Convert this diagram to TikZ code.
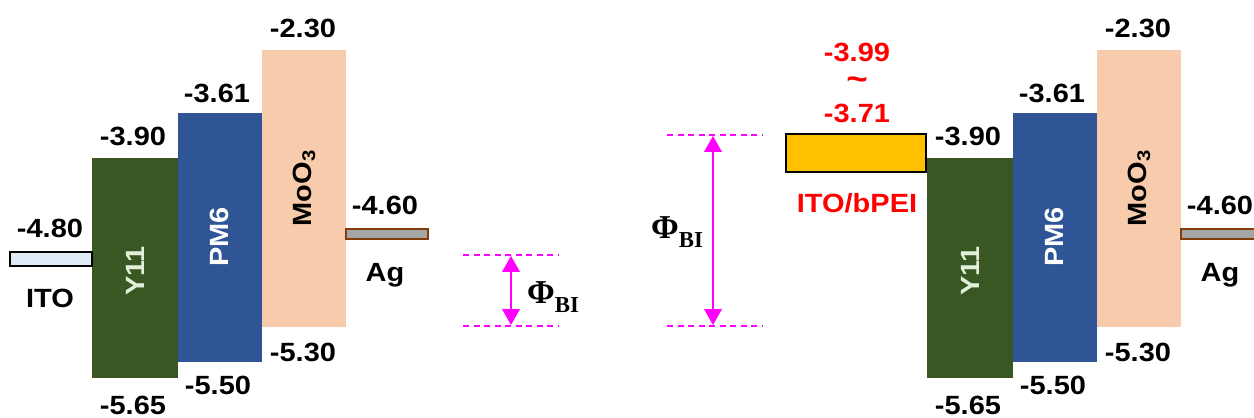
\documentclass[tikz,border=0pt]{standalone}
\usepackage{fontspec}
\setmainfont{Liberation Sans}[FakeStretch=1.1]
\newfontfamily\phifont{Liberation Serif}
\usetikzlibrary{arrows.meta}

\definecolor{y11green}{RGB}{56,87,35}
\definecolor{pmblue}{RGB}{47,85,151}
\definecolor{moopeach}{RGB}{248,203,173}
\definecolor{itoblue}{RGB}{222,235,247}
\definecolor{aggrey}{RGB}{166,166,166}
\definecolor{agbrown}{RGB}{132,60,12}
\definecolor{peigold}{RGB}{255,192,0}
\definecolor{y11text}{RGB}{226,240,217}
\definecolor{phipink}{RGB}{255,0,255}

\newcommand{\phibi}{{\phifont\bfseries\fontsize{19}{19}\selectfont Φ\raisebox{-5pt}{\fontsize{13}{13}\selectfont BI}}}

\begin{document}
\begin{tikzpicture}[x=0.02cm, y=-0.02cm,
  lvl/.style={font=\bfseries\fontsize{15}{17}\selectfont, inner sep=0pt},
  phidash/.style={phipink, line width=0.6pt, dash pattern=on 3.5pt off 2.5pt},
  phiarrow/.style={phipink, line width=0.8pt, {Triangle[width=10pt,length=9pt]}-{Triangle[width=10pt,length=9pt]}}]
  \useasboundingbox (0,0) rectangle (1254,418);

  % the common stack Y11 / PM6 / MoO3 / Ag, drawn twice
  \foreach \s/\p in {0/a,835/b}{
    \begin{scope}[xshift={\s*0.02cm}]
      \fill[y11green] (92,158) rectangle (178,378);
      \fill[pmblue] (178,113) rectangle (262,362);
      \fill[moopeach] (262,50) rectangle (346,327);
      \draw[agbrown, line width=1.1pt, fill=aggrey] (346,229) rectangle (428,239);

      \node[lvl, rotate=90, text=y11text] (y11\p) at (135,271) {Y11};
      \node[lvl, rotate=90, white] (pm\p) at (219,237) {PM6};
      \node[lvl, rotate=90] (moo\p) at (304,188) {MoO\textsubscript{3}};

      \node[lvl] (y11lumo\p) at (133,136) {-3.90};
      \node[lvl] (y11homo\p) at (133,405) {-5.65};
      \node[lvl] (pmlumo\p) at (217,93) {-3.61};
      \node[lvl] (pmhomo\p) at (218,385) {-5.50};
      \node[lvl] (moolumo\p) at (303,28) {-2.30};
      \node[lvl] (moohomo\p) at (303,352) {-5.30};
      \node[lvl] (agwf\p) at (385,205) {-4.60};
      \node[lvl] (ag\p) at (385,275) {Ag};
    \end{scope}
  }

  % bare ITO
  \draw[line width=0.9pt, fill=itoblue] (10,252) rectangle (92,266);
  \node[lvl] (itowf) at (50,228) {-4.80};
  \node[lvl] (ito) at (50,298) {ITO};

  % ITO/bPEI
  \draw[line width=1.2pt, fill=peigold] (786,134) rectangle (926,172);
  \node[lvl, red] (peihi) at (857,52) {-3.99};
  \node[lvl, red, font=\bfseries\fontsize{19}{19}\selectfont] (peitil) at (857,84) {\char`\~};
  \node[lvl, red] (peilo) at (857,113) {-3.71};
  \node[lvl, red] (pei) at (857,203) {ITO/bPEI};

  % built-in potentials
  \draw[phidash] (463,255) -- (558,255);
  \draw[phidash] (463,326) -- (558,326);
  \coordinate (smtop) at (511,256);
  \coordinate (smbot) at (511,325);
  \draw[phiarrow] (smtop) -- (smbot);
  \node (phism) at (553,297) {\phibi};

  \draw[phidash] (667,135) -- (763,135);
  \draw[phidash] (667,326) -- (763,326);
  \coordinate (lgtop) at (713,136);
  \coordinate (lgbot) at (713,325);
  \draw[phiarrow] (lgtop) -- (lgbot);
  \node (philg) at (677,232) {\phibi};
\end{tikzpicture}
\end{document}
